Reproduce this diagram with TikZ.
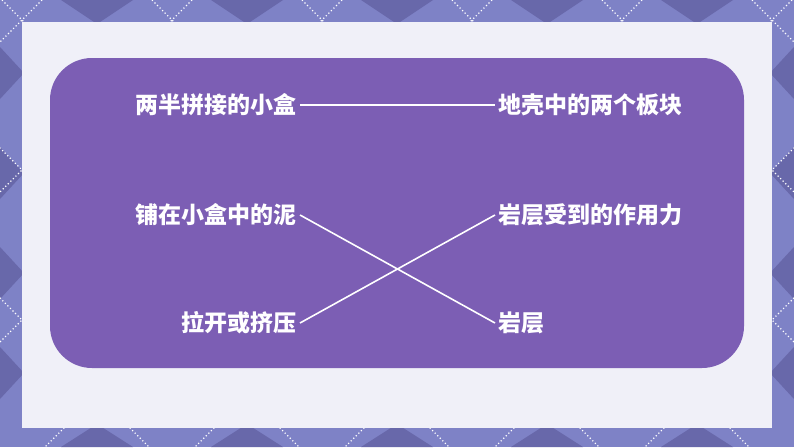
\documentclass[tikz,border=0pt]{standalone}
\usepackage{fontspec}
\newfontfamily\cjk{Noto Sans CJK SC}

\definecolor{framebg}{RGB}{126,130,198}
\definecolor{framedark}{RGB}{104,104,170}
\definecolor{panelbg}{RGB}{240,240,248}
\definecolor{boxpurple}{RGB}{124,94,180}

\tikzset{
  item/.style={text=white,font=\cjk\bfseries\fontsize{23}{23}\selectfont,inner sep=3pt},
  link/.style={white,line width=1.6pt},
  lattice/.style={white,line width=1.1pt,dash pattern=on 1.2pt off 2.4pt}
}

\begin{document}
\begin{tikzpicture}[x=1pt,y=-1pt]
\useasboundingbox (0,0) rectangle (794,447);
\fill[framebg] (0,0) rectangle (794,447);

% dark triangles round the frame
\foreach \x in {97,247,397,547,697} {
  \fill[framedark] (\x-36,0) -- (\x+36,0) -- (\x,24) -- cycle;
  \fill[framedark] (\x-36,447) -- (\x+36,447) -- (\x,424) -- cycle;
}
\foreach \y in {73,173,273,373} {
  \fill[framedark] (0,\y-26) -- (0,\y+26) -- (24,\y) -- cycle;
  \fill[framedark] (794,\y-26) -- (794,\y+26) -- (770,\y) -- cycle;
}

% dotted lattice
\foreach \c in {-598,-448,...,1352} {
  \draw[lattice] (\c,0) -- (\c+447,447);
}
\foreach \c in {-558,-408,...,1392} {
  \draw[lattice] (\c,0) -- (\c-447,447);
}

\fill[panelbg] (22,22) rectangle (772,428);
\fill[boxpurple,rounded corners=42pt] (50,58) rectangle (744,368);

% left column
\node[item,anchor=east] (box) at (300,105) {两半拼接的小盒};
\node[item,anchor=east] (mud) at (300,215) {铺在小盒中的泥};
\node[item,anchor=east] (pull) at (300,323) {拉开或挤压};

% right column
\node[item,anchor=west] (plate) at (495,105) {地壳中的两个板块};
\node[item,anchor=west] (force) at (495,215) {岩层受到的作用力};
\node[item,anchor=west] (rock) at (495,323) {岩层};

\draw[link] (box.east) -- (plate.west);
\draw[link] (mud.east) -- (rock.west);
\draw[link] (pull.east) -- (force.west);

\end{tikzpicture}
\end{document}
